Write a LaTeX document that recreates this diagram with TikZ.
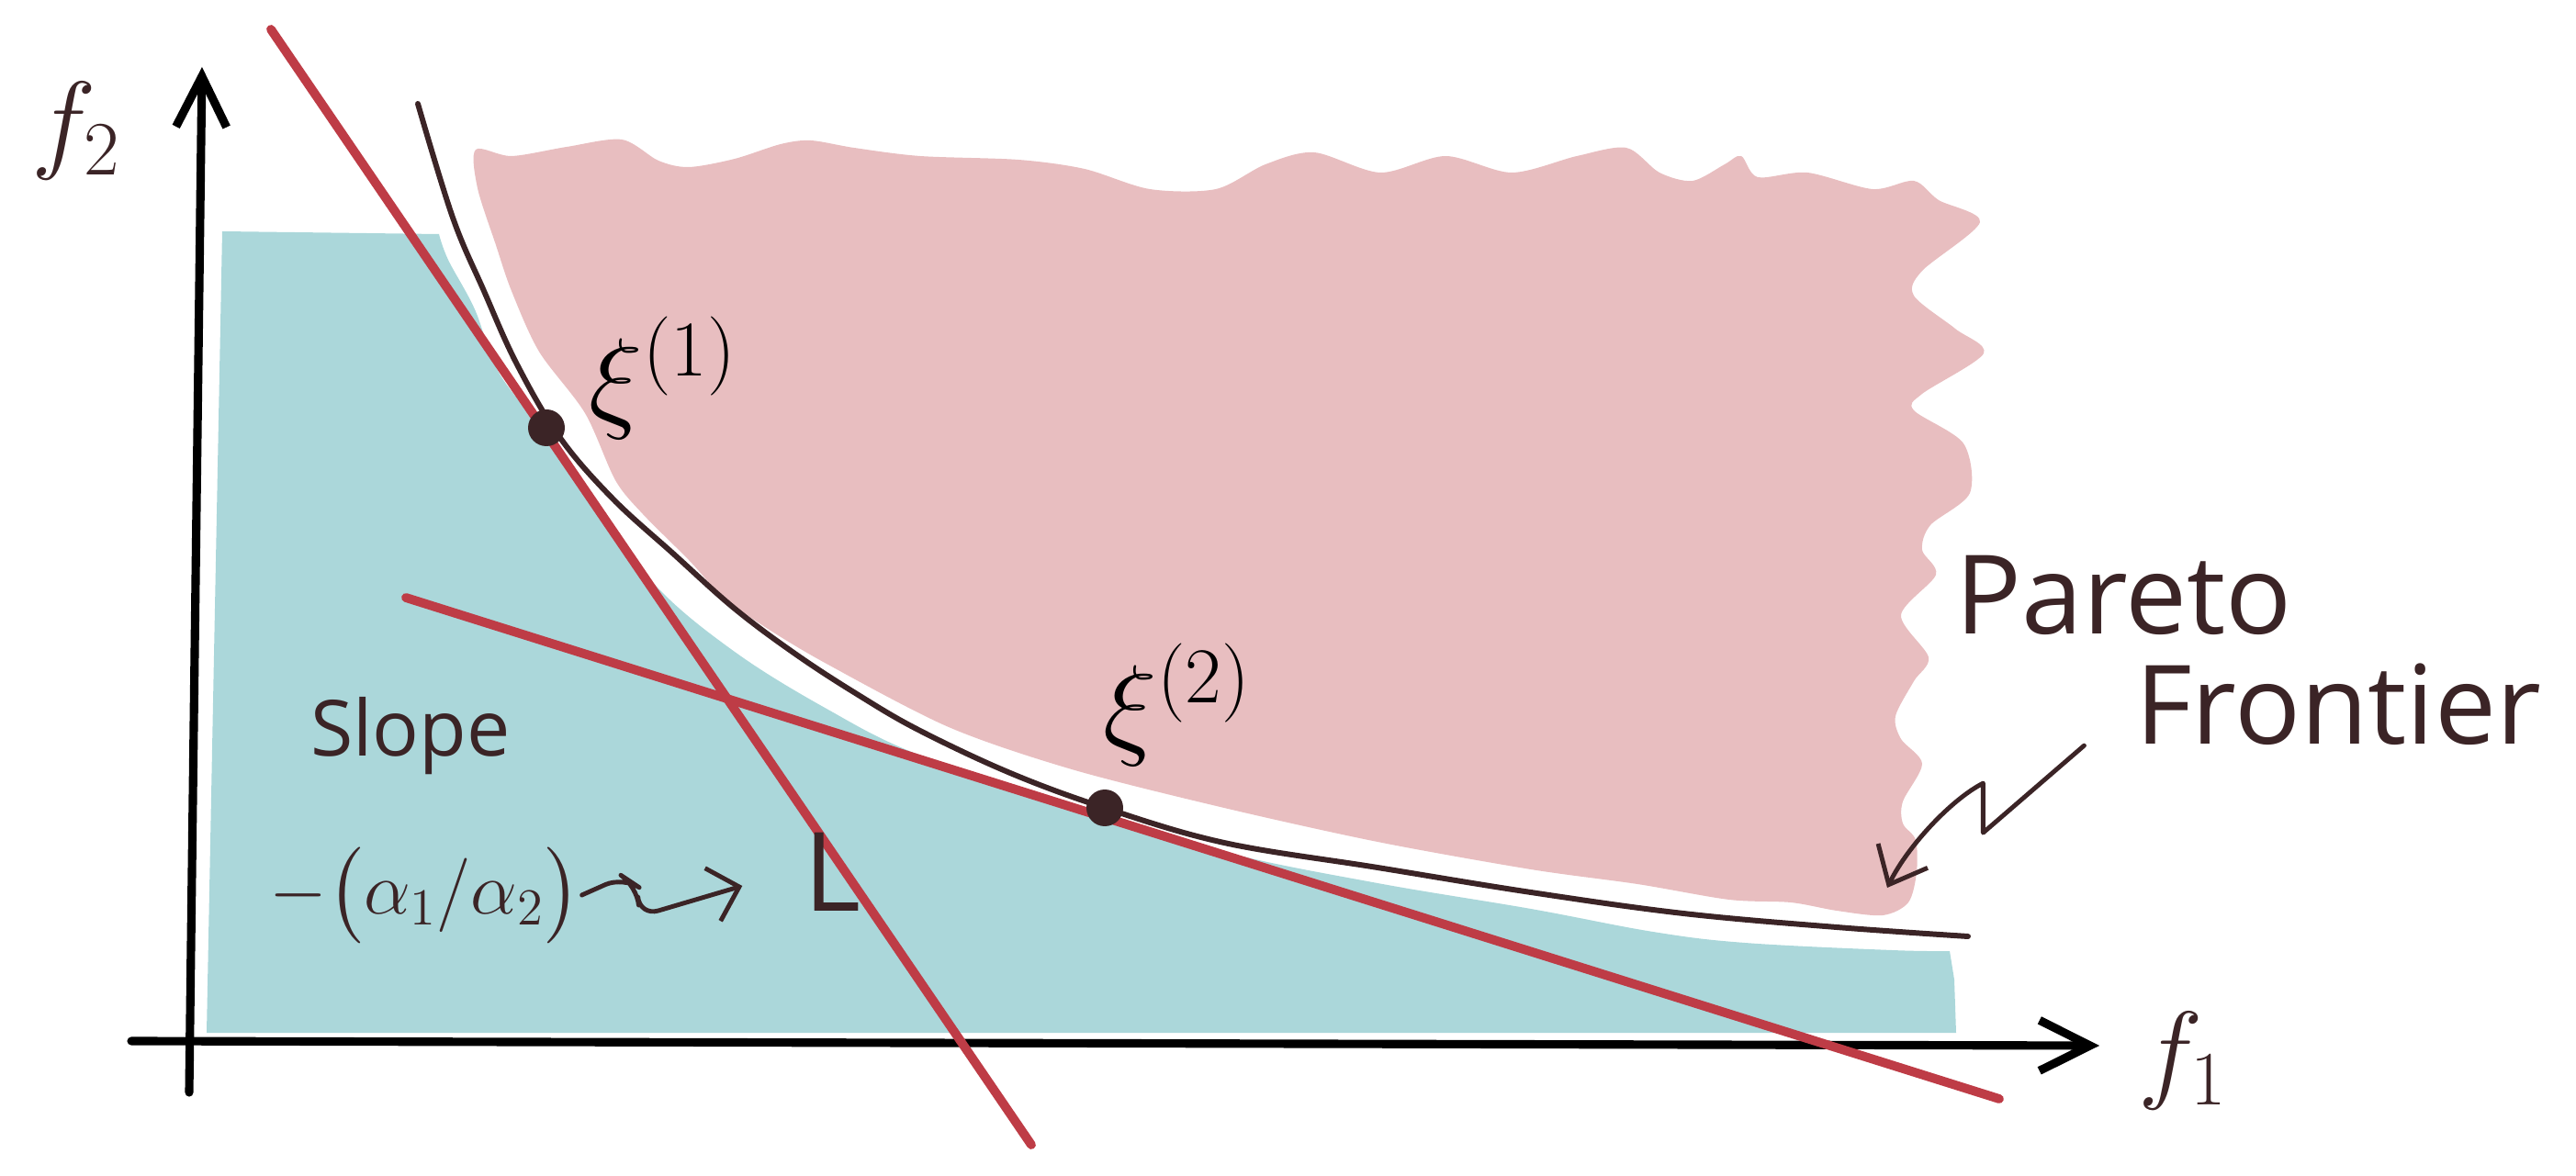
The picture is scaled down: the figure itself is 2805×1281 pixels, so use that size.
\RequirePackage{fix-cm}
\documentclass[tikz,border=0pt]{standalone}
\usepackage{amsmath}
\usepackage{fontspec}
\setmainfont{Open Sans}
\usetikzlibrary{arrows.meta}

\definecolor{feasible}{HTML}{ABD7DA}
\definecolor{infeasible}{HTML}{E8BEC0}
\definecolor{tangentred}{HTML}{BE3C46}
\definecolor{ink}{HTML}{3B2426}

\begin{document}
\begin{tikzpicture}[x=0.1mm, y=-0.1mm,
  pen/.style={draw=ink, line width=1.4pt, line cap=round, line join=round},
  axis/.style={draw=black, line width=2.6pt, line cap=round, -{Straight Barb[length=5.5mm,width=5.5mm]}},
  tangent/.style={draw=tangentred, line width=2.8pt, line cap=round},
  dot/.style={circle, fill=ink, minimum size=4mm, inner sep=0pt},
  lbl/.style={inner sep=0pt, text=ink}]
  \useasboundingbox (0,0) rectangle (2805,1281);

  % feasible region
  \fill[feasible] (225,1125) -- (242,252) -- (478,255)
    -- plot[smooth, tension=0.6] coordinates {(478,255) (488,283) (517,337) (540,400) (575,450)
       (640,540) (713,637) (800,710) (900,772) (1000,822) (1167,877) (1333,928) (1500,962)
       (1667,990) (1800,1015) (1900,1027) (2060,1035) (2123,1036)}
    -- (2128,1067) -- (2130,1125) -- cycle;

  % infeasible region
  \fill[infeasible] plot[smooth cycle, tension=0.5] coordinates {
    (518,163) (557,170) (617,160) (677,152) (717,175) (750,182) (800,173) (850,157) (883,153)
    (930,161) (1002,170) (1109,174) (1181,184) (1252,206) (1324,206) (1378,179) (1431,166)
    (1503,188) (1574,170) (1646,188) (1717,170) (1771,161) (1807,188) (1843,197) (1878,179)
    (1896,170) (1914,193) (1968,188) (2039,206) (2084,197) (2111,218) (2156,242)
    (2093,295) (2084,322) (2129,358) (2160,385) (2093,429) (2084,447) (2138,483) (2145,537)
    (2102,572) (2093,599) (2108,626) (2070,670) (2100,716) (2084,742) (2064,780) (2070,805)
    (2093,832) (2072,873) (2072,897) (2086,915) (2087,950) (2078,983) (2050,997)
    (2000,992) (1950,983) (1883,980) (1783,963) (1667,947) (1500,917) (1333,880) (1167,838)
    (1033,792) (900,723) (833,683) (787,650) (750,610) (700,560) (670,523) (637,450)
    (587,383) (557,317) (540,267) (520,205)};

  % axes
  \draw[axis] (206,1190) -- (220,73);
  \draw[axis] (143,1134) -- (2286,1139);

  % tangent lines
  \draw[tangent] (295,32) -- (1123,1247);
  \draw[tangent] (442,651) -- (2177,1197);

  % pareto frontier
  \draw[pen, line width=1.7pt] plot[smooth, tension=0.6] coordinates {(455,113) (493,237) (527,317)
    (563,397) (610,477) (667,543) (733,603) (800,663) (867,713) (933,756) (1000,795)
    (1100,842) (1203,880) (1333,918) (1500,945) (1667,972) (1833,995) (2000,1010) (2143,1020)};

  % points and labels
  \node[dot] (xi1) at (595,466) {};
  \node[dot] (xi2) at (1203,880) {};
  \node[lbl, text=black] (xi1lab) at (722,412) {\fontsize{35}{40}\selectfont$\xi^{(1)}$};
  \node[lbl, text=black] (xi2lab) at (1282,768) {\fontsize{35}{40}\selectfont$\xi^{(2)}$};

  \node[lbl] (f2) at (83,143) {\fontsize{34}{40}\selectfont$f_2$};
  \node[lbl] (f1) at (2377,1156) {\fontsize{34}{40}\selectfont$f_1$};

  \node[lbl] (slope) at (447,802) {\fontsize{24}{28}\selectfont Slope};
  \node[lbl] (ratio) at (463,975) {\fontsize{23}{27}\selectfont$-\bigl(\alpha_1/\alpha_2\bigr)$};
  \node[lbl] (lineL) at (907,950) {\fontsize{34}{40}\selectfont L};
  \draw[pen, rounded corners=6, -{Straight Barb[length=3mm,width=6mm]}]
    (ratio.east) -- ++(45,-20) -- ++(15,10) -- ++(3,33) -- ([shift={(-67,15)}]lineL.west);

  \node[lbl] (pareto) at (2313,648) {\fontsize{34}{40}\selectfont Pareto};
  \node[lbl] (frontier) at (2546,767) {\fontsize{34}{40}\selectfont Frontier};
  \coordinate (frontierTip) at (2055,967);
  \draw[pen, -{Straight Barb[length=3.5mm,width=6mm]}] ([xshift=-5.5mm]frontier.south west)
    -- ++(-110,95) -- ++(0,-54) .. controls +(-35,18) and +(22,-45) .. (frontierTip);
\end{tikzpicture}
\end{document}
